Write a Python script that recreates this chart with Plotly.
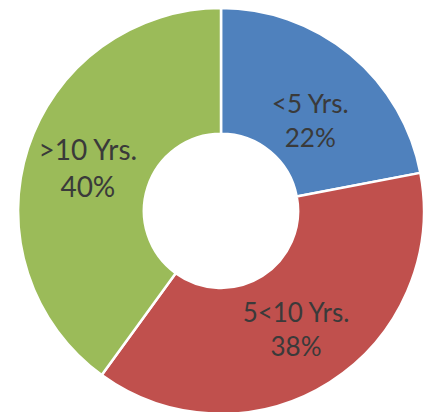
import plotly.graph_objects as go

labels = ["<5 Yrs.", "5<10 Yrs.", ">10 Yrs."]
values = [22, 38, 40]
colors = ["#4F81BD", "#C0504D", "#9BBB59"]
templates = [" <br>%{label}<br>%{value}%", "%{label}<br>%{value}%", "%{label}<br>%{value}%"]
font_sizes = [28, 26, 28]

fig = go.Figure(go.Pie(
    labels=labels,
    values=values,
    hole=0.38,
    sort=False,
    direction="clockwise",
    rotation=0,
    marker=dict(colors=colors, line=dict(color="white", width=2.5)),
    texttemplate=templates,
    textposition="inside",
    insidetextorientation="horizontal",
    textfont=dict(family="Lato", size=font_sizes, color="#3a3a3a"),
    showlegend=False,
    domain=dict(x=[0.0209, 0.9675], y=[0.015, 1.0]),
))

fig.update_layout(
    width=431, height=412,
    margin=dict(l=0, r=0, t=0, b=0),
    paper_bgcolor="white",
    plot_bgcolor="white",
)

fig.write_html("out.html")
